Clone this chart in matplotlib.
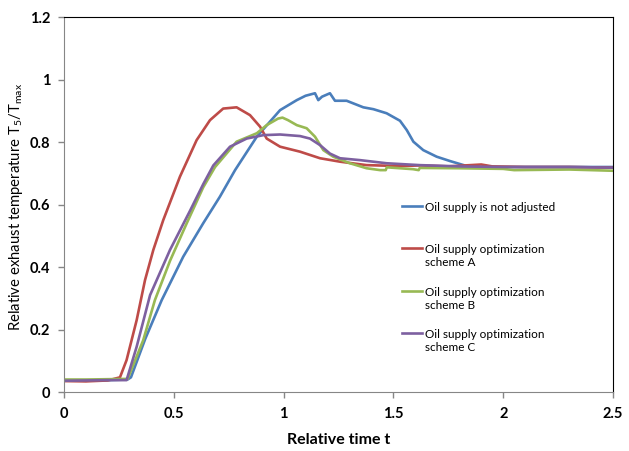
import matplotlib
matplotlib.use("Agg")
import matplotlib.pyplot as plt

# valeurs (temps relatif / temperature relative)
t_blue = [0, 0.1, 0.2, 0.29, 0.305, 0.37, 0.445, 0.543, 0.634, 0.71, 0.779, 0.878, 0.984,
          1.06, 1.10, 1.143, 1.158, 1.175, 1.211, 1.234, 1.287, 1.363, 1.409, 1.469, 1.53,
          1.561, 1.591, 1.636, 1.697, 1.758, 1.834, 1.9, 2.0, 2.2, 2.5]
T_blue = [0.037, 0.036, 0.038, 0.040, 0.047, 0.17, 0.294, 0.433, 0.54, 0.625, 0.71, 0.817, 0.902,
          0.934, 0.948, 0.956, 0.934, 0.945, 0.956, 0.932, 0.932, 0.911, 0.905, 0.892, 0.868,
          0.838, 0.801, 0.774, 0.753, 0.739, 0.723, 0.72, 0.72, 0.72, 0.72]

t_red = [0, 0.1, 0.2, 0.255, 0.285, 0.331, 0.369, 0.407, 0.452, 0.528, 0.604, 0.665, 0.725,
         0.786, 0.847, 0.893, 0.923, 0.984, 1.075, 1.166, 1.257, 1.378, 1.53, 1.62, 1.75,
         1.85, 1.9, 1.95, 2.1, 2.3, 2.5]
T_red = [0.035, 0.034, 0.037, 0.047, 0.102, 0.23, 0.358, 0.455, 0.55, 0.689, 0.806, 0.87, 0.907,
         0.911, 0.886, 0.849, 0.811, 0.785, 0.769, 0.748, 0.737, 0.726, 0.723, 0.725, 0.722,
         0.726, 0.728, 0.722, 0.72, 0.72, 0.718]

t_green = [0, 0.1, 0.2, 0.29, 0.361, 0.414, 0.483, 0.559, 0.634, 0.688, 0.786, 0.878, 0.923,
           0.975, 0.995, 1.02, 1.06, 1.105, 1.143, 1.181, 1.226, 1.302, 1.378, 1.44, 1.465,
           1.47, 1.59, 1.615, 1.62, 1.8, 2.0, 2.05, 2.3, 2.5]
T_green = [0.04, 0.04, 0.041, 0.042, 0.166, 0.294, 0.42, 0.54, 0.655, 0.72, 0.801, 0.828, 0.854,
           0.875, 0.878, 0.87, 0.854, 0.844, 0.817, 0.774, 0.753, 0.732, 0.716, 0.71, 0.71,
           0.719, 0.713, 0.71, 0.717, 0.716, 0.714, 0.71, 0.712, 0.708]

t_purple = [0, 0.1, 0.2, 0.285, 0.331, 0.392, 0.483, 0.574, 0.634, 0.68, 0.756, 0.832,
            0.908, 0.984, 1.075, 1.12, 1.166, 1.211, 1.257, 1.348, 1.469, 1.62, 1.8, 2.0, 2.3, 2.5]
T_purple = [0.036, 0.037, 0.038, 0.038, 0.145, 0.31, 0.455, 0.58, 0.665, 0.725, 0.785, 0.811,
            0.822, 0.824, 0.819, 0.811, 0.79, 0.763, 0.748, 0.742, 0.732, 0.726, 0.722, 0.72, 0.72, 0.718]

labels = ["Oil supply is not adjusted\n",
          "Oil supply optimization\nscheme A",
          "Oil supply optimization\nscheme B",
          "Oil supply optimization\nscheme C"]
colors = ["#4A7EBB", "#BE4B48", "#98B954", "#7D60A0"]

plt.rcParams['font.family'] = ['Lato', 'DejaVu Sans']
plt.rcParams['mathtext.fontset'] = 'custom'
plt.rcParams['mathtext.rm'] = 'Lato'
plt.rcParams['mathtext.it'] = 'Lato'
plt.rcParams['mathtext.bf'] = 'Lato:bold'

fig = plt.figure(figsize=(6.29, 4.51), dpi=100)
ax = fig.add_axes([0.1017, 0.1308, 0.8729, 0.8315])

series = [(t_blue, T_blue), (t_red, T_red), (t_green, T_green), (t_purple, T_purple)]
for (t, T), lab, c in zip(series, labels, colors):
    ax.plot(t, T, color=c, lw=1.9, label=lab)

ax.set_xlim(0, 2.5)
ax.set_ylim(0, 1.2)
ax.set_xticks([0, 0.5, 1, 1.5, 2, 2.5])
ax.set_xticklabels(["0", "0.5", "1", "1.5", "2", "2.5"])
ax.set_yticks([0, 0.2, 0.4, 0.6, 0.8, 1, 1.2])
ax.set_yticklabels(["0", "0.2", "0.4", "0.6", "0.8", "1", "1.2"])
ax.tick_params(labelsize=10.5, colors="#868686", length=4, width=1)
ax.tick_params(axis="x", pad=7)
ax.tick_params(axis="y", pad=6)
for lbl in ax.get_xticklabels() + ax.get_yticklabels():
    lbl.set_color("black")
    lbl.set_fontweight("bold")

for s in ["left", "bottom"]:
    ax.spines[s].set_color("#868686")
for s in ["top", "right"]:
    ax.spines[s].set_color("black")

ax.set_xlabel("Relative time t", fontsize=11.5, fontweight="bold", va="top")
ax.xaxis.set_label_coords(0.5, -0.108)
ax.set_ylabel("Relative exhaust temperature T$_5$/T$_{max}$", fontsize=10.7)
ax.yaxis.set_label_coords(-0.071, 0.493)

leg = ax.legend(loc="upper left", bbox_to_anchor=(0.616, 0.507), frameon=False,
                fontsize=8.5, handlelength=1.7, handletextpad=0.2, labelspacing=1.58,
                borderpad=0, borderaxespad=0)
# aligne le trait de legende sur la premiere ligne du texte
for col in leg._legend_handle_box.get_children():
    for item in col.get_children():
        item.align = "top"

fig.savefig("out.png", dpi=100)
